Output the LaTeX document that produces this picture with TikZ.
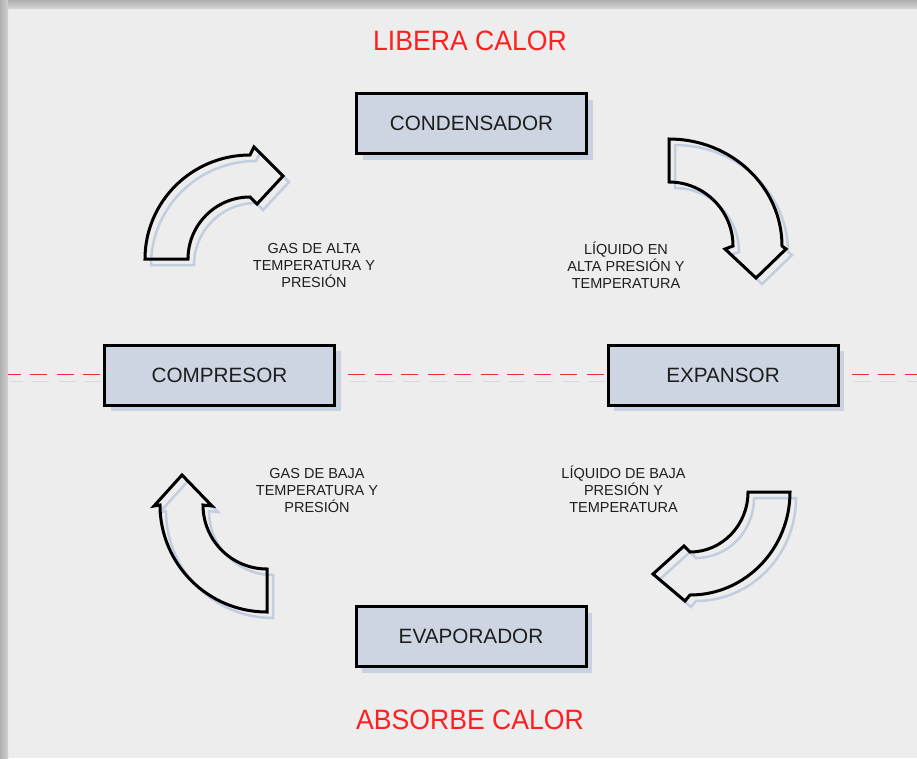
\documentclass[tikz,border=0pt]{standalone}
\usepackage{fontspec}
\setmainfont{Liberation Sans}
\newfontfamily\headfont[FakeStretch=0.95]{Liberation Sans}
\usetikzlibrary{shadows}

\definecolor{bgc}{HTML}{EDEDED}
\definecolor{boxfill}{HTML}{CDD5E3}
\definecolor{boxshadow}{HTML}{C9D2E1}
\definecolor{arrshadow}{HTML}{C2CEE0}
\definecolor{dashshad}{HTML}{D3DAE5}
\definecolor{headred}{HTML}{FF1F1F}
\definecolor{dashred}{HTML}{E8302E}
\definecolor{txt}{HTML}{1E1E1E}
\definecolor{framedark}{HTML}{B0B0B0}
\definecolor{framelight}{HTML}{D2D2D2}

\begin{document}
\begin{tikzpicture}[x=1pt,y=-1pt,
  unitbox/.style={draw=black, line width=3pt, fill=boxfill,
    minimum width=230pt, minimum height=60pt, inner sep=0pt,
    font=\fontsize{20.7}{24}\selectfont, text=txt,
    drop shadow={shadow xshift=6pt, shadow yshift=-6pt, fill=boxshadow, opacity=1}},
  lab/.style={align=center, font=\fontsize{14.5}{17}\selectfont, text=txt, inner sep=0pt},
  head/.style={font=\headfont\fontsize{28}{32}\selectfont, text=headred, inner sep=0pt, anchor=base},
  aline/.style={draw=black, line width=3pt, line join=miter},
  ashadow/.style={draw=arrshadow, line width=2.5pt},
  dashline/.style={draw=dashred, line width=1.3pt, dash pattern=on 17pt off 9.5pt, dash phase=4.5pt},
  dashshadow/.style={draw=dashshad, line width=1.5pt, dash pattern=on 17pt off 9.5pt, dash phase=4.5pt},
]
\useasboundingbox (0,0) rectangle (917,758);
\fill[bgc] (0,0) rectangle (917,758);
\shade[top color=framedark, bottom color=framelight] (0,0) rectangle (917,8);
\shade[left color=framedark, right color=framelight] (0,0) rectangle (8,758);

% horizontal dashed divider
\coordinate (dl) at (8,374.5);
\coordinate (dr) at (917,374.5);
\draw[dashshadow] ([shift={(2,7)}]dl) -- ([shift={(2,7)}]dr);
\draw[dashline] (dl) -- (dr);

% units
\node[unitbox] (cond) at (471.5,123.5) {CONDENSADOR};
\node[unitbox] (comp) at (219.5,375) {COMPRESOR};
\node[unitbox] (exp)  at (723,375) {EXPANSOR};
\node[unitbox] (evap) at (471,636.5) {EVAPORADOR};

% curved block arrows
\foreach \d/\s in {6/ashadow,0/aline}{
  \draw[\s, shift={(\d,\d)}] (145,259)
    arc[start angle=180, end angle=270, x radius=105, y radius=104]
    -- (254,147) -- (283,176) -- (257,204) -- (250,197)
    arc[start angle=270, end angle=180, x radius=62, y radius=62] -- cycle;
  \draw[\s, shift={(\d,\d)}] (669,139)
    arc[start angle=270, end angle=360, x radius=113, y radius=107]
    -- (786,249) -- (756,278) -- (725,249) -- (733,246)
    arc[start angle=0, end angle=-90, x radius=64, y radius=64] -- cycle;
  \draw[\s, shift={(\d,\d)}] (790,492)
    arc[start angle=0, end angle=90, x radius=100, y radius=103]
    -- (685,601) -- (653,574) -- (684,546) -- (690,552)
    arc[start angle=90, end angle=0, x radius=58, y radius=60] -- cycle;
  \draw[\s, shift={(\d,\d)}] (267,612)
    arc[start angle=90, end angle=180, x radius=107, y radius=107]
    -- (154,506) -- (182,475) -- (212,506) -- (203,505)
    arc[start angle=180, end angle=90, x radius=64, y radius=64] -- cycle;
}

% labels
\node[lab] (l1) at (314,265.5) {GAS DE ALTA\\TEMPERATURA Y\\PRESIÓN};
\node[lab] (l2) at (626,265.5) {LÍQUIDO EN\\ALTA PRESIÓN Y\\TEMPERATURA};
\node[lab] (l3) at (317,490.5) {GAS DE BAJA\\TEMPERATURA Y\\PRESIÓN};
\node[lab] (l4) at (623.5,489) {LÍQUIDO DE BAJA\\PRESIÓN Y\\TEMPERATURA};

% headings
\node[head] (libera) at (470,50.5) {LIBERA CALOR};
\node[head] (absorbe) at (470,729) {ABSORBE CALOR};
\end{tikzpicture}
\end{document}
